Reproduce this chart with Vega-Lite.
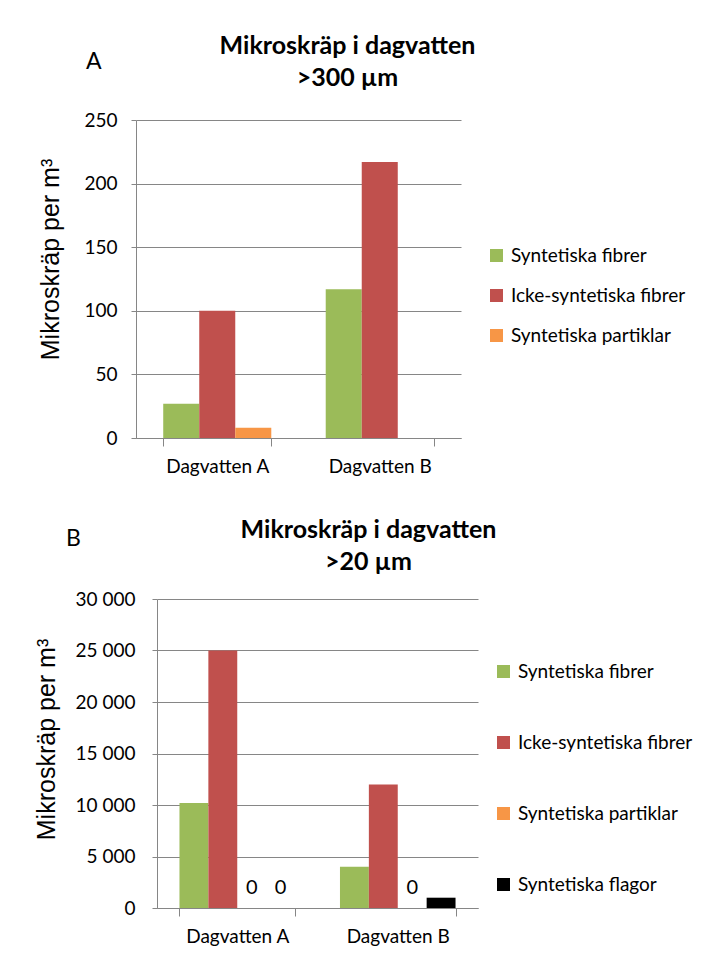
{
  "$schema": "https://vega.github.io/schema/vega-lite/v6.json",
  "background": "white",
  "padding": {"left": 34, "top": 33, "right": 5, "bottom": 5},
  "datasets": {
    "a": [
      {"site": "Dagvatten A", "type": "Syntetiska fibrer", "value": 27},
      {"site": "Dagvatten A", "type": "Icke-syntetiska fibrer", "value": 100},
      {"site": "Dagvatten A", "type": "Syntetiska partiklar", "value": 8},
      {"site": "Dagvatten B", "type": "Syntetiska fibrer", "value": 117},
      {"site": "Dagvatten B", "type": "Icke-syntetiska fibrer", "value": 217},
      {"site": "Dagvatten B", "type": "Syntetiska partiklar", "value": 0}
    ],
    "b": [
      {"site": "Dagvatten A", "type": "Syntetiska fibrer", "value": 10200},
      {"site": "Dagvatten A", "type": "Icke-syntetiska fibrer", "value": 25000},
      {"site": "Dagvatten A", "type": "Syntetiska partiklar", "value": 0},
      {"site": "Dagvatten A", "type": "Syntetiska flagor", "value": 0},
      {"site": "Dagvatten B", "type": "Syntetiska fibrer", "value": 4000},
      {"site": "Dagvatten B", "type": "Icke-syntetiska fibrer", "value": 12000},
      {"site": "Dagvatten B", "type": "Syntetiska partiklar", "value": 0},
      {"site": "Dagvatten B", "type": "Syntetiska flagor", "value": 1000}
    ]
  },
  "spacing": 41,
  "columns": 1,
  "align": "none",
  "resolve": {
    "scale": {"color": "independent", "x": "independent", "y": "independent", "xOffset": "independent"},
    "legend": {"color": "independent"}
  },
  "concat": [
    {
      "title": {"text": "A", "anchor": "start", "frame": "bounds", "offset": -41, "dx": 47},
      "width": 325,
      "height": 318,
      "data": {"name": "a"},
      "resolve": {"axis": {"x": "independent"}},
      "encoding": {
        "xOffset": {"field": "type", "type": "nominal",
          "sort": ["Syntetiska fibrer", "Icke-syntetiska fibrer", "Syntetiska partiklar"],
          "scale": {"paddingInner": 0, "paddingOuter": 0}},
        "y": {"field": "value", "type": "quantitative", "title": "Mikroskräp per m³",
          "scale": {"domain": [0, 250]},
          "axis": {"values": [0, 50, 100, 150, 200, 250], "tickSize": 5, "labelPadding": 14, "titlePadding": 20, "titleY": 139}}
      },
      "layer": [
        {
          "mark": {"type": "bar"},
          "encoding": {
            "x": {"field": "site", "type": "nominal", "title": null,
              "scale": {"paddingInner": 0.335, "paddingOuter": 0.1675},
              "axis": {"labelAngle": 0, "tickBand": "extent", "tickSize": 8, "labelPadding": 11, "grid": false}},
            "color": {"field": "type", "type": "nominal",
              "scale": {"domain": ["Syntetiska fibrer", "Icke-syntetiska fibrer", "Syntetiska partiklar"],
                        "range": ["#9BBB59", "#C0504D", "#F79646"]},
              "legend": {"title": null, "orient": "none", "legendX": 351, "legendY": 126, "rowPadding": 20}}
          }
        },
        {
          "mark": {"type": "text"},
          "encoding": {
            "x": {"field": "site", "type": "nominal",
              "title": ["Mikroskräp i dagvatten", ">300 µm"],
              "axis": {"orient": "top", "labels": false, "ticks": false, "domain": false, "grid": false,
                       "titleX": 211, "titleAlign": "center", "titlePadding": 30}},
            "text": {"value": ""}
          }
        }
      ]
    },
    {
      "title": {"text": "B", "anchor": "start", "frame": "bounds", "offset": -34, "dx": 32},
      "width": 342,
      "height": 309,
      "data": {"name": "b"},
      "resolve": {"axis": {"x": "independent"}},
      "encoding": {
        "xOffset": {"field": "type", "type": "nominal",
          "sort": ["Syntetiska fibrer", "Icke-syntetiska fibrer", "Syntetiska partiklar", "Syntetiska flagor"],
          "scale": {"paddingInner": 0, "paddingOuter": 0}},
        "y": {"field": "value", "type": "quantitative", "title": "Mikroskräp per m³",
          "scale": {"domain": [0, 30000]},
          "axis": {"values": [0, 5000, 10000, 15000, 20000, 25000, 30000], "tickSize": 5, "labelPadding": 17, "titlePadding": 16,
                   "offset": -21, "titleY": 140,
                   "labelExpr": "replace(format(datum.value, ',d'), ',', ' ')"}}
      },
      "layer": [
        {
          "mark": {"type": "bar"},
          "encoding": {
            "x": {"field": "site", "type": "nominal", "title": null,
              "scale": {"paddingInner": 0.28, "paddingOuter": 0.14, "range": [21, 342]},
              "axis": {"labelAngle": 0, "tickBand": "extent", "tickSize": 8, "labelPadding": 11, "grid": false}},
            "color": {"field": "type", "type": "nominal",
              "scale": {"domain": ["Syntetiska fibrer", "Icke-syntetiska fibrer", "Syntetiska partiklar", "Syntetiska flagor"],
                        "range": ["#9BBB59", "#C0504D", "#F79646", "#000000"]},
              "legend": {"title": null, "orient": "none", "legendX": 358, "legendY": 63, "rowPadding": 51}}
          }
        },
        {
          "transform": [{"filter": "datum.value == 0"}],
          "mark": {"type": "text", "dy": -20, "fontSize": 20, "font": "Lato", "color": "#000"},
          "encoding": {
            "x": {"field": "site", "type": "nominal",
              "title": ["Mikroskräp i dagvatten", ">20 µm"],
              "axis": {"orient": "top", "labels": false, "ticks": false, "domain": false, "grid": false,
                       "titleX": 232, "titleAlign": "center", "titlePadding": 25}},
            "text": {"field": "value", "type": "quantitative"}
          }
        }
      ]
    }
  ],
  "config": {
    "view": {"stroke": null},
    "title": {"font": "Lato", "fontSize": 23, "fontWeight": "normal", "color": "#000"},
    "axisTop": {"titleFont": "Lato", "titleFontSize": 25, "titleFontWeight": "bold", "titleLineHeight": 32},
    "axis": {
      "labelFont": "Lato", "labelFontSize": 19, "labelColor": "#000",
      "titleFont": "Liberation Sans", "titleFontSize": 25, "titleFontWeight": "normal", "titleColor": "#000",
      "gridColor": "#868686", "domainColor": "#868686", "tickColor": "#868686", "gridWidth": 1
    },
    "legend": {
      "labelFont": "Lato", "labelFontSize": 19, "labelColor": "#000", "labelLimit": 400,
      "symbolType": "square", "symbolSize": 169, "symbolStrokeWidth": 0, "labelOffset": 5
    }
  }
}
